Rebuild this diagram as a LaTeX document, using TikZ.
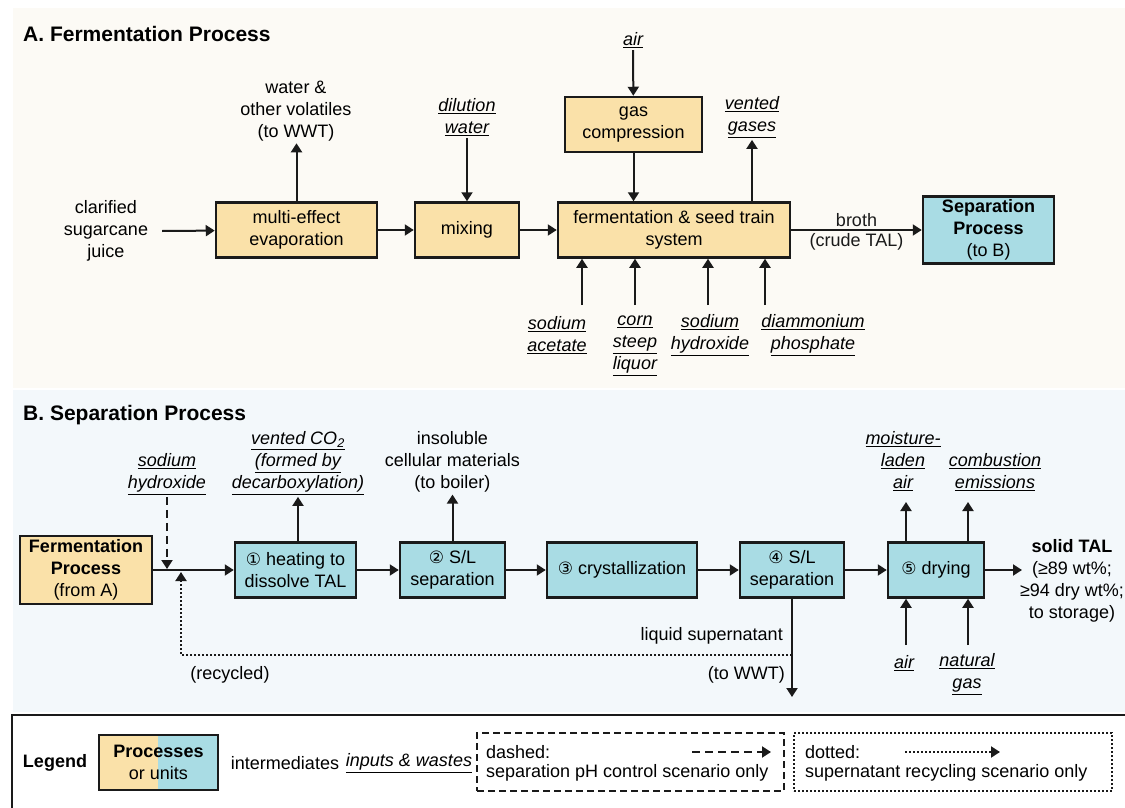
\documentclass[tikz,border=0pt]{standalone}
\usepackage{fontspec}
\setmainfont{Liberation Sans}
\newfontfamily\circfont{DejaVu Sans}
\usetikzlibrary{arrows.meta,positioning}
\definecolor{procbeige}{HTML}{FAE1A9}
\definecolor{procblue}{HTML}{A9DCE4}
\definecolor{bgfer}{HTML}{FCFAF5}
\definecolor{bgsep}{HTML}{F3F8FB}
\definecolor{ink}{HTML}{1A1A1A}
\newcommand{\inp}[1]{\leavevmode\vtop{\hbox{\itshape #1}\kern1.5pt\hrule height 1.1pt}}
\newcommand{\cnum}[1]{{\circfont\fontsize{17}{22}\selectfont #1}}

\begin{document}
\begin{tikzpicture}[x=1pt,y=-1pt,
  txt/.style={font=\fontsize{18}{22}\selectfont, align=center, inner sep=2pt},
  unit/.style={txt, draw=ink, line width=2.5pt, minimum height=55pt, inner sep=0pt},
  ferunit/.style={unit, fill=procbeige},
  sepunit/.style={unit, fill=procblue},
  flow/.style={ink, line width=2pt, -{Triangle[length=9pt,width=11pt]}},
  dashflow/.style={flow, dash pattern=on 8pt off 5pt},
  dotflow/.style={flow, dash pattern=on 2pt off 2pt},
  sectitle/.style={font=\fontsize{21}{25}\selectfont\bfseries, anchor=west, inner sep=0pt}]
  \useasboundingbox (0,0) rectangle (1125,808);
  \fill[bgfer] (13,8) rectangle (1125,388);
  \fill[bgsep] (13,390) rectangle (1125,712);

  % A. fermentation
  \node[sectitle] (titleA) at (23,34) {A. Fermentation Process};
  \node[txt] (juice) at (106,231) {clarified\\sugarcane\\juice};
  \node[ferunit, minimum width=161pt] (evap) at (296.5,230) {multi-effect\\evaporation};
  \node[ferunit, minimum width=104pt] (mix) at (467,230) {mixing};
  \node[ferunit, minimum width=232pt] (ferm) at (674,230) {fermentation \& seed train\\system};
  \node[ferunit, minimum width=137pt] (gascomp) at (633.5,124.5) {gas\\compression};
  \node[sepunit, minimum width=131pt, minimum height=67pt] (sepA) at (988.5,230) {\textbf{Separation}\\\textbf{Process}\\(to B)};
  \node[txt] (volat) at (296,111) {water \&\\other volatiles\\(to WWT)};
  \node[txt] (dil) at (467,117) {\inp{dilution}\\\inp{water}};
  \node[txt] (air) at (633,40) {\inp{air}};
  \node[txt] (vgas) at (752,117) {\inp{vented}\\\inp{gases}};
  \node[txt] (naac) at (557,335) {\inp{sodium}\\\inp{acetate}};
  \node[txt] (csl) at (635,346) {\inp{corn}\\\inp{steep}\\\inp{liquor}};
  \node[txt] (naoh) at (710,335) {\inp{sodium}\\\inp{hydroxide}};
  \node[txt] (dap) at (813,335) {\inp{diammonium}\\\inp{phosphate}};
  \coordinate (in1) at (582,305);
  \coordinate (in2) at (635,305);
  \coordinate (in3) at (708,305);
  \coordinate (in4) at (765,305);

  \draw[flow] ([xshift=12pt]juice.east) -- (evap);
  \draw[flow] (evap.north) -- (evap.north |- volat.south);
  \draw[flow] (evap) -- (mix);
  \draw[flow] (dil) -- (mix);
  \draw[flow] (mix) -- (ferm);
  \draw[flow] (air) -- (gascomp);
  \draw[flow] (gascomp.south) -- (gascomp.south |- ferm.north);
  \draw[flow] (ferm.north -| vgas) -- (vgas.south);
  \foreach \i in {in1,in2,in3,in4}
    \draw[flow] (\i) -- (\i |- ferm.south);
  \draw[flow] (ferm) -- node[txt, above]{broth} node[txt, below]{(crude TAL)} (sepA);

  % B. separation
  \node[sectitle] (titleB) at (23,415) {B. Separation Process};
  \node[ferunit, minimum width=132pt, minimum height=68pt] (fermB) at (86,570) {\textbf{Fermentation}\\\textbf{Process}\\(from A)};
  \node[sepunit, minimum width=121pt] (s1) at (295.5,570) {\cnum{①} heating to\\dissolve TAL};
  \node[sepunit, minimum width=105pt] (s2) at (452.5,570) {\cnum{②} S/L\\separation};
  \node[sepunit, minimum width=150pt] (s3) at (622,570) {\cnum{③} crystallization};
  \node[sepunit, minimum width=104pt] (s4) at (792,570) {\cnum{④} S/L\\separation};
  \node[sepunit, minimum width=96pt] (s5) at (936,570) {\cnum{⑤} drying};
  \node[txt] (naohB) at (167,474) {\inp{sodium}\\\inp{hydroxide}};
  \node[txt] (co2) at (298,463) {\inp{vented CO\textsubscript{2}}\\\inp{(formed by}\\\inp{decarboxylation)}};
  \node[txt] (insol) at (452.5,462) {insoluble\\cellular materials\\(to boiler)};
  \node[txt] (moist) at (903,461) {\inp{moisture-}\\\inp{laden}\\\inp{air}};
  \node[txt] (comb) at (995,472) {\inp{combustion}\\\inp{emissions}};
  \node[txt] (airB) at (904,663) {\inp{air}};
  \node[txt] (ngas) at (967,674) {\inp{natural}\\\inp{gas}};
  \node[txt] (tal) at (1072,581) {\textbf{solid TAL}\\(≥89 wt\%;\\≥94 dry wt\%;\\to storage)};
  \node[txt, anchor=east] (liq) at (785,636) {liquid supernatant};
  \node[txt, anchor=east] (wwtB) at (787,675) {(to WWT)};
  \node[txt] (recy) at (230,675) {(recycled)};
  \coordinate (dashend) at (167,569);
  \coordinate (recend) at (181,572);
  \coordinate (recturn) at (181,655);
  \coordinate (drain) at (792,697);
  \coordinate (out) at (1022,570);
  \coordinate (up1) at (906,502);
  \coordinate (up2) at (968,502);
  \coordinate (dn1) at (906,645);
  \coordinate (dn2) at (968,645);

  \draw[flow] (fermB) -- (s1);
  \draw[dashflow] (naohB.south) -- (dashend);
  \draw[dotflow] (s4.south |- recturn) -- (recturn) -- (recend);
  \draw[flow] (s1.north -| co2) -- (co2.south);
  \draw[flow] (s2.north) -- (insol.south);
  \draw[flow] (s1) -- (s2);
  \draw[flow] (s2) -- (s3);
  \draw[flow] (s3) -- (s4);
  \draw[flow] (s4) -- (s5);
  \draw[flow] (s4) -- (drain);
  \draw[flow] (s5) -- (out);
  \draw[flow] (up1 |- s5.north) -- (up1);
  \draw[flow] (up2 |- s5.north) -- (up2);
  \draw[flow] (dn1) -- (dn1 |- s5.south);
  \draw[flow] (dn2) -- (dn2 |- s5.south);

  % legend
  \draw[ink, line width=2pt, fill=white] (12,715) rectangle (1140,830);
  \node[txt, font=\fontsize{18}{22}\selectfont\bfseries] (leg) at (55,763) {Legend};
  \fill[procbeige] (99,735) rectangle (158,790);
  \fill[procblue] (158,735) rectangle (218,790);
  \node[unit, minimum width=119pt] (keybox) at (158.5,762.5) {\textbf{Processes}\\or units};
  \node[txt] (keyint) at (285,763) {intermediates};
  \node[txt] (keyinp) at (409,763) {\inp{inputs \& wastes}};
  \node[draw=ink, line width=2pt, dash pattern=on 7pt off 4pt, minimum width=307pt, minimum height=58pt] (dashkey) at (630.5,762) {};
  \node[draw=ink, line width=2pt, dash pattern=on 2pt off 2pt, minimum width=318pt, minimum height=58pt] (dotkey) at (953,762) {};
  \node[txt, anchor=west] (dashtxt) at (484,752) {dashed:};
  \node[txt, anchor=west] at (484,773) {separation pH control scenario only};
  \node[txt, anchor=west] (dottxt) at (803,752) {dotted:};
  \node[txt, anchor=west] at (803,773) {supernatant recycling scenario only};
  \coordinate (dk1) at (692,752);
  \coordinate (dk2) at (771,752);
  \coordinate (tk1) at (905,752);
  \coordinate (tk2) at (1000,752);
  \draw[dashflow] (dk1) -- (dk2);
  \draw[dotflow] (tk1) -- (tk2);
\end{tikzpicture}
\end{document}
